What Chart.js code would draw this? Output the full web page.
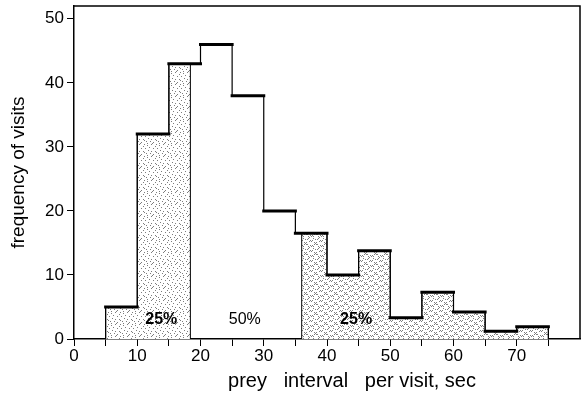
<!DOCTYPE html>
<html>
<head>
<meta charset="utf-8">
<script src="https://cdn.jsdelivr.net/npm/chart.js@4.4.1/dist/chart.umd.min.js"></script>
<style>
  html, body { margin: 0; padding: 0; background: #fff; }
  #wrap { width: 588px; height: 397px; }
</style>
</head>
<body>
<div id="wrap"><canvas id="histChart"></canvas></div>
<script>
// histogram bins (left edge, sec) and visit counts
const binStarts = [5, 10, 15, 20, 25, 30, 35, 40, 45, 50, 55, 60, 65, 70];
const binWidth = 5;
const freqs = [5, 32, 43, 46, 38, 20, 16.5, 10, 13.8, 3.3, 7.3, 4.2, 1.2, 1.9];
const yTickValues = [0, 10, 20, 30, 40, 50];
const xTickLabels = [0, 10, 20, 30, 40, 50, 60, 70];
// shaded quartile regions (x range)
const shadeLeft = [5, 18.4];
const shadeRight = [36, 75];
const quartileText = ["25%", "50%", "25%"];
const quartileX = [13.8, 27, 44.6];
const quartileY = [3.1, 3.0, 3.1];

const fontFamily = "'Liberation Sans', Arial, sans-serif";

function freqAt(x) {
  for (let i = 0; i < binStarts.length; i++) {
    if (x >= binStarts[i] && x < binStarts[i] + binWidth) return freqs[i];
  }
  return 0;
}

// step outline between two x values, closed down to zero at both ends
function stepPoints(from, to) {
  const pts = [{ x: from, y: 0 }, { x: from, y: freqAt(from) }];
  binStarts.forEach((s, i) => {
    if (s > from && s < to) pts.push({ x: s, y: freqs[i] });
  });
  pts.push({ x: to, y: freqAt(to - 1e-6) });
  pts.push({ x: to, y: 0 });
  return pts;
}

function topPoints() {
  const pts = [];
  binStarts.forEach((s, i) => {
    pts.push({ x: s, y: freqs[i] });
    pts.push({ x: s + binWidth, y: freqs[i] });
    pts.push({ x: s + binWidth, y: null });
  });
  return pts;
}

function makePattern(dots, size) {
  const c = document.createElement("canvas");
  c.width = size;
  c.height = size;
  const g = c.getContext("2d");
  g.fillStyle = "#ffffff";
  g.fillRect(0, 0, size, size);
  g.fillStyle = "#7d7d7d";
  dots.forEach(d => g.fillRect(d[0], d[1], 1, 1));
  return g.createPattern(c, "repeat");
}

const lightDots = [[0,0],[3,1],[7,0],[5,3],[1,4],[9,4],[4,6],[7,7],[0,8],[2,9],[6,9],[9,10],[3,11],[11,2],[11,7],[8,11]];
const darkDots = [[0,0],[2,0],[1,1],[4,2],[6,2],[5,3],[4,4],[6,4],[0,5],[2,5],[1,6],[8,6],[9,7],[8,8],[3,8],[5,9],[7,9],[6,10],[0,10],[9,1],[3,6],[7,4]];
const lightPattern = makePattern(lightDots, 12);
const darkPattern = makePattern(darkDots, 10);

const frameAndLabels = {
  id: "frameAndLabels",
  afterDatasetsDraw(chart) {
    const { ctx, chartArea: a, scales } = chart;
    ctx.save();
    ctx.strokeStyle = "#000";
    ctx.lineWidth = 1.5;
    ctx.beginPath();
    ctx.moveTo(a.left, a.top);
    ctx.lineTo(a.right, a.top);
    ctx.lineTo(a.right, a.bottom);
    ctx.stroke();
    ctx.fillStyle = "#000";
    ctx.textAlign = "center";
    ctx.textBaseline = "middle";
    quartileText.forEach((t, i) => {
      ctx.font = (t === "50%" ? "" : "bold ") + "16px " + fontFamily;
      ctx.fillText(t, scales.x.getPixelForValue(quartileX[i]), scales.y.getPixelForValue(quartileY[i]));
    });
    ctx.restore();
  }
};

const ctx = document.getElementById("histChart").getContext("2d");
const histChart = new Chart(ctx, {
  type: "line",
  data: {
    datasets: [
      {
        data: stepPoints(shadeLeft[0], shadeLeft[1]),
        stepped: true,
        borderColor: "#000",
        borderWidth: 1,
        backgroundColor: lightPattern,
        fill: "origin",
        pointRadius: 0,
        order: 4,
      },
      {
        data: stepPoints(shadeRight[0], shadeRight[1]),
        stepped: true,
        borderColor: "#000",
        borderWidth: 1,
        backgroundColor: darkPattern,
        fill: "origin",
        pointRadius: 0,
        order: 3,
      },
      {
        data: stepPoints(binStarts[0], binStarts[binStarts.length - 1] + binWidth),
        stepped: true,
        borderColor: "#000",
        borderWidth: 1.2,
        fill: false,
        pointRadius: 0,
        order: 2,
      },
      {
        data: topPoints(),
        borderColor: "#000",
        borderWidth: 3,
        borderCapStyle: "square",
        spanGaps: false,
        fill: false,
        pointRadius: 0,
        order: 1,
      },
    ],
  },
  options: {
    responsive: true,
    maintainAspectRatio: false,
    animation: false,
    events: [],
    layout: { padding: { left: 5, right: 8, top: 6, bottom: 4 } },
    plugins: { legend: { display: false }, tooltip: { enabled: false } },
    scales: {
      x: {
        type: "linear",
        min: 0,
        max: 80,
        afterFit: s => { s.height = 54; s.paddingLeft = 0; s.paddingRight = 0; },
        border: { color: "#000", width: 1.5 },
        grid: {
          drawOnChartArea: false,
          tickLength: 7,
          color: c => (c.tick && c.tick.value === 80 ? "rgba(0,0,0,0)" : "#000"),
        },
        ticks: {
          stepSize: 5,
          color: "#000",
          padding: 0,
          maxRotation: 0,
          autoSkip: false,
          font: { family: fontFamily, size: 17 },
          callback: v => (xTickLabels.includes(v) ? String(v) : ""),
        },
        title: {
          display: true,
          text: "         prey   interval   per visit, sec",
          color: "#000",
          font: { family: fontFamily, size: 20 },
          padding: { top: 2, bottom: 0 },
        },
      },
      y: {
        min: 0,
        max: 52,
        afterFit: s => { s.width = 69; s.paddingTop = 0; s.paddingBottom = 0; },
        border: { color: "#000", width: 1.5 },
        grid: { drawOnChartArea: false, tickLength: 7, color: "#000" },
        ticks: {
          stepSize: 10,
          includeBounds: false,
          color: "#000",
          padding: 3,
          font: { family: fontFamily, size: 17 },
          callback: v => (yTickValues.includes(v) ? String(v) : null),
        },
        title: {
          display: true,
          text: "frequency of visits",
          color: "#000",
          font: { family: fontFamily, size: 19 },
          padding: { top: 2, bottom: 0 },
        },
      },
    },
  },
  plugins: [frameAndLabels],
});
</script>
</body>
</html>
